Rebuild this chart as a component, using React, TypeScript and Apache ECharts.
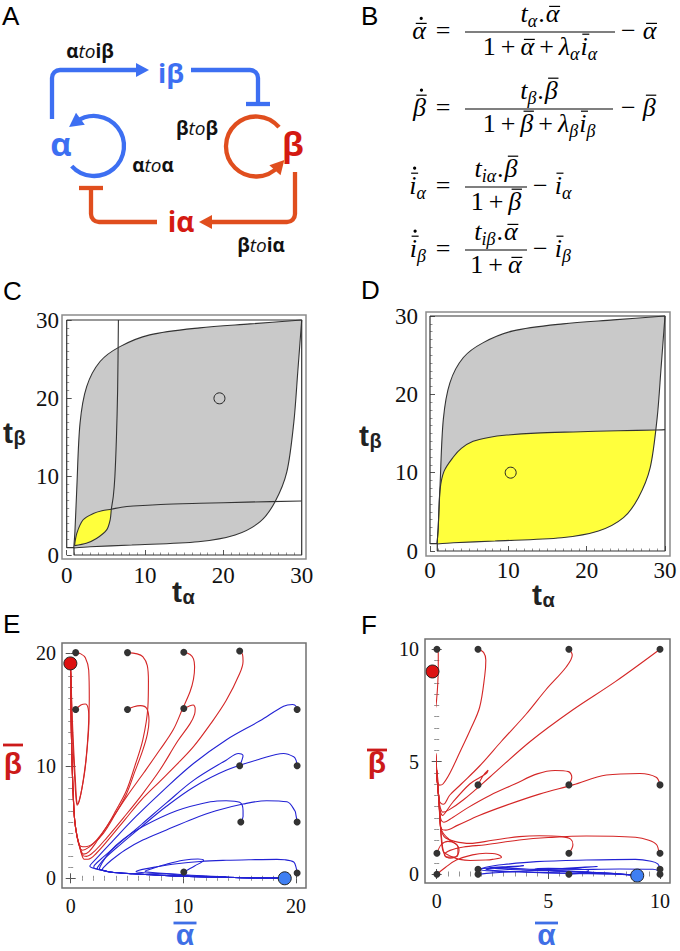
import React, { useEffect, useRef } from 'react';
import * as echarts from 'echarts';

type P = [number, number];

// ---------------- axis ranges ----------------
const CD_MAX = 30, CD_STEP = 10;
const E_MAX = 20, E_STEP = 10;
const F_MAX = 10, F_STEP = 5;

// ---------------- Panel C / D : parameter regions ----------------
const regionOutline: P[] = [[0, 30], [30, 30], [30, 0], [0.93, 0], [0.93, 0.93], [0, 0.93], [0, 30]];
const grayUpperEdge: P[] = [[0.9, 0.9], [1.05, 3], [1.28, 8.3], [1.7, 16.8], [2.55, 21.5], [4.26, 24.7], [6.8, 26.6], [10.6, 28.1], [17, 29], [23.4, 29.5], [30, 30]];
const grayLowerEdge: P[] = [[0.9, 0.9], [3, 1.05], [8.3, 1.28], [16.8, 1.7], [21.5, 2.55], [24.7, 4.26], [26.6, 6.8], [28.1, 10.6], [29, 17], [29.5, 23.4], [30, 30]];
const cLensTop: P[] = [[1.0, 1.2], [1.3, 2.8], [2.1, 4.5], [3.4, 5.3], [4.5, 5.65], [5.7, 5.85]];
const cLensBottom: P[] = [[1.0, 1.2], [2.5, 1.5], [3.8, 2.1], [5.1, 3.2], [5.55, 4.5], [5.7, 5.85]];
const cHorizCurve: P[] = [[5.7, 5.85], [7, 6.1], [8.5, 6.25], [12, 6.45], [17, 6.6], [23, 6.75], [30, 6.9]];
const cVertCurve: P[] = [[5.7, 5.85], [5.95, 7.5], [6.15, 10], [6.35, 15], [6.5, 21], [6.6, 30]];
const cMarker: P[] = [[19.5, 20]];
const dYellowTop: P[] = [[0.9, 0.9], [1.05, 3], [1.28, 7.8], [1.8, 10.2], [2.98, 12], [4, 13.1], [5.5, 14], [7.5, 14.5], [9.8, 14.8], [13.5, 15.05], [18.3, 15.2], [24, 15.35], [28.8, 15.45]];
const dYellowLower: P[] = [[0.9, 0.9], [3, 1.05], [8.3, 1.28], [16.8, 1.7], [21.5, 2.55], [24.7, 4.26], [26.6, 6.8], [28.1, 10.6], [28.8, 15.45]];
const dBetaTail: P[] = [[28.8, 15.45], [30, 15.5]];
const dMarker: P[] = [[10.3, 10]];

// ---------------- Panel E : trajectories ----------------
const eStarts: P[] = [[0.44, 20.06], [5.04, 20.06], [10.04, 20.1], [15.0, 20.2], [0.44, 15.0], [5.04, 15.0], [10.04, 15.1], [20.1, 15.0], [15.0, 10.0], [20.1, 10.0], [15.1, 5.0], [20.1, 5.0], [10.04, 0.56], [20.1, 0.47]];
const eRedFixed: P[] = [[-0.03, 19.1]];
const eBlueFixed: P[] = [[19.0, 0.0]];
const eRedReturn: P[] = [[0.55, 3.8], [0.35, 5.2], [0.22, 7.5], [0.13, 10], [0.07, 12.5], [0.03, 15], [0.01, 17.5], [-0.03, 19.1]];
const eBlueBottom: P[] = [[3.5, 0.56], [5.5, 0.4], [7.9, 0.27], [10.5, 0.17], [13.8, 0.09], [16.5, 0.04], [19.0, 0.0]];
const eRed1: P[] = [[0.44, 20.06], [0.9, 19.95], [1.3, 19.6], [1.6, 18.5], [1.65, 16], [1.55, 13], [1.35, 10.5], [1.0, 8.0], [0.75, 6.9], [0.58, 6.5], [0.48, 7.0], [0.38, 8.5], [0.24, 11], [0.12, 14], [0.04, 17], [-0.03, 19.1]];
const eRed2: P[] = [[0.44, 15.0], [0.9, 15.4], [1.3, 15.5], [1.55, 15.1], [1.62, 14], [1.5, 12], [1.25, 9.5], [0.9, 7.5], [0.64, 6.6], [0.53, 6.9], [0.43, 8.5], [0.29, 11], [0.15, 14], [0.05, 17], [-0.03, 19.1]];
const eRed3: P[] = [[5.04, 20.06], [5.9, 19.95], [6.4, 19.7], [6.8, 18.9], [6.9, 17.5], [6.85, 15.2], [6.4, 12.3], [5.7, 10], [4.95, 7.8], [4.0, 6.0], [3.2, 4.6], [2.3, 3.4], [1.6, 2.75], [1.05, 2.5], [0.8, 2.75], ...eRedReturn];
const eRed4: P[] = [[5.04, 15.0], [5.6, 15.25], [6.2, 15.35], [6.75, 15.1], [6.95, 14.0], [6.8, 12.8], [6.4, 11.4], [5.7, 9.5], [4.95, 7.5], [3.9, 5.6], [2.9, 4.0], [2.0, 3.1], [1.3, 2.8], [0.9, 2.85], [0.72, 3.1], ...eRedReturn];
const eRed5: P[] = [[10.04, 20.1], [10.6, 19.9], [10.9, 19.5], [11.0, 18.8], [10.9, 17.7], [10.6, 16.6], [9.9, 15], [9.1, 13.2], [7.9, 11.4], [6.5, 9.4], [5.0, 7.3], [3.6, 5.2], [2.4, 3.4], [1.6, 2.35], [1.15, 2.15], [0.9, 2.5], ...eRedReturn];
const eRed6: P[] = [[10.04, 15.1], [10.5, 15.3], [10.87, 15.4], [11.05, 15.1], [11.0, 14.6], [10.6, 13.75], [9.5, 12.2], [7.9, 9.6], [6.3, 7.4], [4.7, 5.4], [3.2, 3.6], [2.1, 2.4], [1.4, 1.95], [1.05, 2.05], [0.85, 2.6], ...eRedReturn];
const eRed7: P[] = [[15.0, 20.2], [15.25, 19.9], [15.3, 19.3], [15.0, 18.2], [13.8, 15.8], [12.4, 13.7], [10.9, 11.7], [9.4, 10.1], [7.9, 8.6], [6.3, 7.0], [4.8, 5.2], [3.4, 3.5], [2.3, 2.25], [1.55, 1.7], [1.2, 1.7], [0.95, 2.2], [0.78, 2.9], ...eRedReturn];
const eBlue1: P[] = [[20.1, 15.0], [20.05, 15.25], [19.7, 15.45], [18.9, 15.3], [16.8, 14.0], [13.8, 12.3], [10.9, 10.2], [8.2, 7.8], [5.8, 5.5], [3.8, 3.4], [2.5, 2.0], [1.8, 1.25], [1.7, 1.07], [2.3, 0.82], ...eBlueBottom];
const eBlue2: P[] = [[15.0, 10.0], [15.2, 10.5], [15.3, 10.9], [14.9, 11.1], [13.8, 10.5], [10.9, 8.7], [8.5, 6.7], [6.3, 4.8], [4.3, 3.1], [2.9, 1.9], [2.1, 1.15], [2.05, 0.95], [2.6, 0.76], ...eBlueBottom];
const eBlue3: P[] = [[20.1, 10.0], [20.0, 10.5], [19.8, 10.8], [18.9, 11.1], [16.8, 10.6], [13.8, 9.6], [10.9, 8.1], [8.5, 6.4], [6.3, 4.6], [4.4, 3.0], [3.0, 1.75], [2.4, 1.0], [2.35, 0.86], [2.8, 0.72], ...eBlueBottom];
const eBlue4: P[] = [[15.1, 5.0], [15.3, 5.5], [15.3, 6.0], [15.0, 6.75], [13.8, 6.9], [12.4, 6.8], [9.4, 6.0], [6.4, 4.6], [4.7, 3.5], [3.5, 2.4], [2.75, 1.3], [2.55, 0.85], [2.9, 0.7], ...eBlueBottom];
const eBlue5: P[] = [[20.1, 5.0], [20.0, 5.6], [19.9, 6.0], [19.2, 6.8], [17.4, 6.9], [15.3, 6.6], [12.9, 6.0], [10.9, 5.3], [8.5, 4.3], [6.4, 3.4], [4.8, 2.5], [3.6, 1.6], [2.9, 0.95], [2.8, 0.78], [3.1, 0.66], ...eBlueBottom];
const eBlue6: P[] = [[10.04, 0.56], [11.0, 1.1], [11.8, 1.6], [11.3, 1.72], [10.0, 1.6], [8.5, 1.25], [7.2, 0.85], [6.6, 0.62], [7.5, 0.5], [9.5, 0.36], [12, 0.2], [14.5, 0.1], [17, 0.04], [19.0, 0.0]];
const eBlue7: P[] = [[20.1, 0.47], [20.0, 1.0], [19.8, 1.45], [19.0, 1.65], [18.3, 1.68], [16, 1.65], [13.8, 1.6], [11.5, 1.5], [9.4, 1.3], [7.5, 1.0], [6.0, 0.7], [5.8, 0.58], [6.5, 0.5], [8.5, 0.38], [11, 0.22], [14, 0.1], [17, 0.03], [19.0, 0.0]];
const eRedPaths = [eRed1, eRed2, eRed3, eRed4, eRed5, eRed6, eRed7];
const eBluePaths = [eBlue1, eBlue2, eBlue3, eBlue4, eBlue5, eBlue6, eBlue7];

// ---------------- Panel F : trajectories ----------------
const fStarts: P[] = [[0.01, 9.99], [1.85, 9.99], [5.92, 9.99], [10.0, 9.99], [1.85, 3.96], [5.92, 3.96], [10.0, 3.96], [0.01, 0.92], [5.92, 0.92], [10.0, 0.92], [0.01, -0.01], [1.85, 0.21], [1.85, -0.01], [5.92, -0.01], [10.0, 0.21], [10.0, -0.01]];
const fRedFixed: P[] = [[-0.19, 9.0]];
const fBlueFixed: P[] = [[8.98, -0.07]];
const fRedReturn: P[] = [[0.1, 3.3], [0.0, 4.5], [-0.09, 6.0], [-0.16, 7.4], [-0.19, 9.0]];
const fRed1: P[] = [[0.01, 9.99], [0.07, 9.8], [0.07, 9.2], [0.05, 8.5], [0.0, 7.8], [-0.06, 7.35], [-0.1, 7.5], [-0.15, 8.2], [-0.19, 9.0]];
const fRed2: P[] = [[1.85, 9.99], [2.1, 9.85], [2.2, 9.5], [2.15, 8.8], [1.92, 7.4], [1.5, 6.4], [1.03, 5.4], [0.6, 4.5], [0.28, 4.0], [0.12, 3.95], [0.04, 4.3], [-0.05, 5.3], [-0.12, 6.5], [-0.17, 7.8], [-0.19, 9.0]];
const fRed3: P[] = [[5.92, 9.99], [6.07, 9.73], [5.8, 9.2], [4.9, 8.2], [4.0, 7.1], [2.9, 5.9], [1.92, 4.8], [1.1, 4.0], [0.58, 3.5], [0.3, 3.1], [0.18, 3.15], ...fRedReturn];
const fRed4: P[] = [[10.0, 9.99], [8.0, 8.55], [6.1, 7.3], [4.2, 5.9], [2.37, 4.3], [1.2, 3.3], [0.55, 2.85], [0.28, 2.75], [0.16, 2.95], ...fRedReturn];
const fRed5: P[] = [[1.85, 3.96], [2.1, 4.4], [2.3, 4.62], [2.25, 4.5], [1.95, 4.3], [1.48, 4.0], [0.73, 3.2], [0.4, 2.75], [0.27, 2.6], [0.16, 2.8], ...fRedReturn];
const fRed6: P[] = [[5.92, 3.96], [6.05, 4.3], [5.9, 4.55], [5.3, 4.6], [4.5, 4.45], [3.5, 4.0], [2.4, 3.5], [1.4, 2.95], [0.7, 2.5], [0.32, 2.3], [0.17, 2.5], ...fRedReturn];
const fRed7: P[] = [[10.0, 3.96], [9.83, 4.3], [9.1, 4.47], [7.6, 4.4], [6.1, 3.96], [4.6, 3.55], [3.1, 3.05], [1.9, 2.6], [0.9, 2.15], [0.4, 1.95], [0.22, 2.0], [0.15, 2.4], ...fRedReturn];
const fRed8: P[] = [[0.01, 0.92], [0.2, 1.3], [0.5, 1.45], [0.85, 1.35], [1.0, 1.05], [0.8, 0.75], [0.45, 0.75], [0.3, 1.0], [0.22, 1.6], [0.17, 2.1], ...fRedReturn];
const fRed9: P[] = [[5.92, 0.92], [6.1, 1.3], [6.0, 1.55], [5.6, 1.66], [4.6, 1.7], [3.7, 1.66], [2.5, 1.5], [1.48, 1.36], [0.8, 1.45], [0.4, 1.6], [0.25, 1.8], [0.17, 2.1], ...fRedReturn];
const fRed10: P[] = [[9.95, 0.92], [9.85, 1.3], [9.5, 1.5], [8.9, 1.63], [6.7, 1.69], [5.0, 1.62], [3.7, 1.51], [2.2, 1.3], [1.2, 1.2], [0.6, 1.05], [0.35, 0.85], [0.6, 0.7], [0.95, 0.85], [0.95, 1.2], [0.6, 1.5], [0.3, 1.8], [0.17, 2.1], ...fRedReturn];
const fRed11: P[] = [[0.01, -0.01], [0.4, 0.3], [0.88, 0.62], [1.6, 0.85], [2.2, 0.92], [2.7, 0.88], [2.9, 0.75], [2.5, 0.65], [2.2, 0.62], [1.5, 0.6], [1.03, 0.65], [0.6, 0.8], [0.3, 1.0], [0.2, 1.6], [0.17, 2.1], ...fRedReturn];
const fBlue1: P[] = [[1.85, 0.21], [2.3, 0.27], [3.2, 0.33], [3.9, 0.37], [3.3, 0.3], [2.6, 0.24], [3.3, 0.2], [5.0, 0.15], [6.6, 0.1], [7.8, 0.03], [8.98, -0.07]];
const fBlue2: P[] = [[1.85, -0.01], [2.5, 0.05], [3.8, 0.12], [5.0, 0.2], [6.5, 0.3], [7.2, 0.33], [6.2, 0.25], [4.8, 0.18], [5.6, 0.12], [7.0, 0.06], [8.2, 0.0], [8.98, -0.07]];
const fBlue3: P[] = [[5.92, -0.01], [6.5, 0.05], [6.8, 0.15], [6.3, 0.22], [5.0, 0.25], [4.4, 0.22], [5.3, 0.15], [6.8, 0.08], [8.0, 0.02], [8.98, -0.07]];
const fBlue4: P[] = [[10.0, 0.21], [9.9, 0.45], [9.6, 0.57], [8.9, 0.65], [6.7, 0.62], [4.46, 0.55], [3.0, 0.42], [2.2, 0.3], [1.95, 0.2], [2.5, 0.13], [3.7, 0.1], [5.5, 0.05], [7.0, 0.02], [8.0, 0.0], [8.98, -0.07]];
const fBlue5: P[] = [[10.0, -0.01], [9.9, 0.15], [9.68, 0.21], [8.2, 0.22], [6.5, 0.2], [5.2, 0.18], [4.0, 0.22], [3.0, 0.26], [2.2, 0.22], [2.6, 0.15], [4.0, 0.08], [6.0, 0.02], [7.8, 0.0], [8.98, -0.07]];
const fRedPaths = [fRed1, fRed2, fRed3, fRed4, fRed5, fRed6, fRed7, fRed8, fRed9, fRed10, fRed11];
const fBluePaths = [fBlue1, fBlue2, fBlue3, fBlue4, fBlue5];

// ---------------- Panel B : equations ----------------
type Tok = { t: string; it?: boolean; sub?: boolean; bar?: 'lo' | 'hi'; dot?: boolean; gap?: number };
const eq1Lhs: Tok[] = [{ t: 'α', it: true, bar: 'lo', dot: true }];
const eq1Num: Tok[] = [{ t: 't', it: true }, { t: 'α', it: true, sub: true }, { t: '.', gap: 1 }, { t: 'α', it: true, bar: 'lo', gap: 1 }];
const eq1Den: Tok[] = [{ t: '1' }, { t: '+', gap: 5 }, { t: 'α', it: true, bar: 'lo', gap: 5 }, { t: '+', gap: 5 }, { t: 'λ', it: true, gap: 5 }, { t: 'α', it: true, sub: true }, { t: 'i', it: true, bar: 'hi', gap: 1 }, { t: 'α', it: true, sub: true }];
const eq1Tail: Tok[] = [{ t: '−' }, { t: 'α', it: true, bar: 'lo', gap: 7 }];
const eq2Lhs: Tok[] = [{ t: 'β', it: true, bar: 'hi', dot: true }];
const eq2Num: Tok[] = [{ t: 't', it: true }, { t: 'β', it: true, sub: true }, { t: '.', gap: 1 }, { t: 'β', it: true, bar: 'hi', gap: 1 }];
const eq2Den: Tok[] = [{ t: '1' }, { t: '+', gap: 5 }, { t: 'β', it: true, bar: 'hi', gap: 5 }, { t: '+', gap: 5 }, { t: 'λ', it: true, gap: 5 }, { t: 'β', it: true, sub: true }, { t: 'i', it: true, bar: 'hi', gap: 1 }, { t: 'β', it: true, sub: true }];
const eq2Tail: Tok[] = [{ t: '−' }, { t: 'β', it: true, bar: 'hi', gap: 7 }];
const eq3Lhs: Tok[] = [{ t: 'i', it: true, bar: 'hi', dot: true }, { t: 'α', it: true, sub: true }];
const eq3Num: Tok[] = [{ t: 't', it: true }, { t: 'iα', it: true, sub: true }, { t: '.', gap: 1 }, { t: 'β', it: true, bar: 'hi', gap: 1 }];
const eq3Den: Tok[] = [{ t: '1' }, { t: '+', gap: 5 }, { t: 'β', it: true, bar: 'hi', gap: 5 }];
const eq3Tail: Tok[] = [{ t: '−' }, { t: 'i', it: true, bar: 'hi', gap: 7 }, { t: 'α', it: true, sub: true }];
const eq4Lhs: Tok[] = [{ t: 'i', it: true, bar: 'hi', dot: true }, { t: 'β', it: true, sub: true }];
const eq4Num: Tok[] = [{ t: 't', it: true }, { t: 'iβ', it: true, sub: true }, { t: '.', gap: 1 }, { t: 'α', it: true, bar: 'lo', gap: 1 }];
const eq4Den: Tok[] = [{ t: '1' }, { t: '+', gap: 5 }, { t: 'α', it: true, bar: 'lo', gap: 5 }];
const eq4Tail: Tok[] = [{ t: '−' }, { t: 'i', it: true, bar: 'hi', gap: 7 }, { t: 'β', it: true, sub: true }];

// ---------------- fonts / colours ----------------
const SERIF = '"Liberation Serif", "Times New Roman", serif';
const SANS = '"Liberation Sans", Arial, sans-serif';
const OPEN = '"Open Sans", "Liberation Sans", sans-serif';
const BLUE = '#3d6ff2';
const RED_LINE = '#e04e1e';
const RED_TXT = '#d41a12';
const TRAJ_RED = '#d42626';
const TRAJ_BLUE = '#2222d4';

let mctx: CanvasRenderingContext2D | null = null;
function tw(text: string, size: number, italic: boolean, family = SERIF, bold = false) {
  if (!mctx) mctx = document.createElement('canvas').getContext('2d');
  if (!mctx) return text.length * size * 0.5;
  mctx.font = `${italic ? 'italic ' : ''}${bold ? 'bold ' : ''}${size}px ${family}`;
  return mctx.measureText(text).width;
}

const EQ = 26, SUB = 18;
function rowW(toks: Tok[]) {
  return toks.reduce((s, k) => s + (k.gap || 0) + tw(k.t, k.sub ? SUB : EQ, !!k.it), 0);
}
function drawRow(toks: Tok[], x0: number, baseline: number, out: any[]) {
  let x = x0;
  toks.forEach((k) => {
    x += k.gap || 0;
    const fs = k.sub ? SUB : EQ;
    const w = tw(k.t, fs, !!k.it);
    const bl = baseline + (k.sub ? 5 : 0);
    out.push({
      type: 'text', x, y: bl - 0.3375 * fs, z: 50,
      style: { text: k.t, fontSize: fs, fontFamily: SERIF, fontStyle: k.it ? 'italic' : 'normal', fill: '#000', align: 'left', verticalAlign: 'middle', textAlign: 'left', textVerticalAlign: 'middle' },
    });
    if (k.bar) {
      const by = bl - (k.bar === 'hi' ? 0.8 : 0.6) * fs;
      const bw = Math.max(w * 0.8, 7);
      const bx = x + w * 0.25;
      out.push({ type: 'line', z: 50, shape: { x1: bx, y1: by, x2: bx + bw, y2: by }, style: { stroke: '#000', lineWidth: 1.2 } });
      if (k.dot) out.push({ type: 'circle', z: 50, shape: { cx: bx + bw / 2, cy: by - 5, r: 1.6 }, style: { fill: '#000' } });
    }
    x += w;
  });
  return x;
}
function equation(lhs: Tok[], num: Tok[], den: Tok[], tail: Tok[], bar: number, x0: number, x1: number, tailX: number, out: any[]) {
  drawRow(lhs, 426 - rowW(lhs), bar + 7, out);
  drawRow([{ t: '=' }], 443 - tw('=', EQ, false) / 2, bar + 7, out);
  const cx = (x0 + x1) / 2;
  drawRow(num, cx - rowW(num) / 2, bar - 10, out);
  drawRow(den, cx - rowW(den) / 2, bar + 23, out);
  out.push({ type: 'line', z: 50, shape: { x1: x0, y1: bar, x2: x1, y2: bar }, style: { stroke: '#000', lineWidth: 1.2 } });
  drawRow(tail, tailX, bar + 7, out);
}

// ---------------- helpers ----------------
function txt(text: string, x: number, y: number, size: number, o: any = {}) {
  return {
    type: 'text', x, y, z: 50,
    style: {
      text, fontSize: size, fontFamily: o.family || SANS, fontWeight: o.bold ? 'bold' : 'normal', fontStyle: o.italic ? 'italic' : 'normal',
      fill: o.color || '#000', align: o.align || 'left', verticalAlign: 'middle', textAlign: o.align || 'left', textVerticalAlign: 'middle',
    },
  };
}
function label3(a: string, b: string, x: number, y: number) {
  const base = { fontFamily: OPEN, fontSize: 19, fill: '#111', color: '#111' };
  return {
    type: 'text', x, y, z: 50,
    style: {
      text: `{b|${a}}{i|to}{b|${b}}`,
      rich: { b: { ...base, fontWeight: 'bold' }, i: { ...base, fontStyle: 'italic' } },
      align: 'center', verticalAlign: 'middle', textAlign: 'center', textVerticalAlign: 'middle',
    },
  };
}
const LW = 4.3;
const seg = (x1: number, y1: number, x2: number, y2: number, c: string) => ({ type: 'line', z: 40, shape: { x1, y1, x2, y2 }, style: { stroke: c, lineWidth: LW, lineCap: 'butt' } });
const arcEl = (cx: number, cy: number, r: number, sa: number, ea: number, cw: boolean, c: string) => ({ type: 'arc', z: 40, shape: { cx, cy, r, startAngle: sa, endAngle: ea, clockwise: cw }, style: { stroke: c, lineWidth: LW, fill: 'none' } });
function head(tx: number, ty: number, dx: number, dy: number, c: string, len = 13, half = 7) {
  const bx = tx - dx * len, by = ty - dy * len, nx = -dy, ny = dx;
  return { type: 'polygon', z: 41, shape: { points: [[tx, ty], [bx + nx * half, by + ny * half], [bx - nx * half, by - ny * half]] }, style: { fill: c } };
}
function circleArrow(cx: number, cy: number, r: number, sa: number, ea: number, c: string) {
  const px = cx + r * Math.cos(ea), py = cy + r * Math.sin(ea);
  const dx = Math.sin(ea), dy = -Math.cos(ea);
  return [arcEl(cx, cy, r, sa, ea, false, c), head(px + dx * 9, py + dy * 9, dx, dy, c, 14, 7.5)];
}
function rect(x: number, y: number, w: number, h: number, c: string) {
  return { type: 'rect', z: 30, shape: { x, y, width: w, height: h }, style: { fill: 'none', stroke: c, lineWidth: 1.5 } };
}
function overlined(t: string, cx: number, baseline: number, size: number, color: string, barY: number, barW: number) {
  return [
    txt(t, cx, baseline - 0.3465 * size, size, { bold: true, color, align: 'center' }),
    { type: 'rect', z: 50, shape: { x: cx - barW / 2, y: barY - 1.4, width: barW, height: 2.8 }, style: { fill: color } },
  ];
}
function subTitle(main: string, sub: string, x: number, baseline: number, color = '#222') {
  const w = tw(main, 30, false, SANS, true);
  return [
    txt(main, x, baseline - 0.3465 * 30, 30, { bold: true, color }),
    txt(sub, x + w + 0.5, baseline + 2 - 0.3465 * 20, 20, { bold: true, color }),
  ];
}
function closedShape(a: P[], b: P[]) {
  return [...a, ...b.slice().reverse()];
}

function axis(grid: number, pos: string, max: number, step: number, offset: number, labels: boolean, size: number, margin: number) {
  return {
    type: 'value', gridIndex: grid, position: pos, min: 0, max, interval: step, offset,
    axisLine: { show: false }, splitLine: { show: false },
    axisTick: { show: true, inside: true, length: 5, lineStyle: { color: '#555', width: 1 } },
    minorTick: { show: true, splitNumber: 10, length: 2.5, lineStyle: { color: '#777', width: 0.8 } },
    axisLabel: { show: labels, fontFamily: SERIF, fontSize: size, color: '#111', margin },
  };
}

function buildOption() {
  const series: any[] = [];
  const poly = (ax: number, pts: P[], fill: string, z: number) => ({
    type: 'custom', xAxisIndex: ax, yAxisIndex: ax, coordinateSystem: 'cartesian2d', z, silent: true, clip: false,
    data: [pts[0]],
    renderItem: (_p: any, api: any) => ({ type: 'polygon', shape: { points: pts.map((p) => api.coord(p)), smooth: 0.3 }, style: { fill, stroke: 'none' } }),
  });
  const line = (ax: number, data: P[], color: string, width: number, smooth: number, z = 3) => ({
    type: 'line', xAxisIndex: ax, yAxisIndex: ax, data, symbol: 'none', showSymbol: false, smooth, clip: false, silent: true, z,
    lineStyle: { color, width },
  });
  const dots = (ax: number, data: P[], size: number, color: string, border?: string, z = 5) => ({
    type: 'scatter', xAxisIndex: ax, yAxisIndex: ax, data, symbol: 'circle', symbolSize: size, clip: false, silent: true, z,
    itemStyle: { color, borderColor: border || color, borderWidth: border ? 1 : 0, opacity: 1 },
  });

  // Panel C (axes 0)
  series.push(poly(0, closedShape(grayUpperEdge, grayLowerEdge), '#c9c9c9', 1));
  series.push(poly(0, closedShape(cLensTop, cLensBottom), '#ffff3c', 2));
  series.push(line(0, regionOutline, '#333', 1.2, 0));
  series.push(line(0, grayUpperEdge, '#333', 1.1, 0.3));
  series.push(line(0, grayLowerEdge, '#333', 1.1, 0.3));
  series.push(line(0, [...cLensTop, ...cHorizCurve.slice(1)], '#333', 1.1, 0.3));
  series.push(line(0, [...cLensBottom, ...cVertCurve.slice(1)], '#333', 1.1, 0.3));
  series.push(dots(0, cMarker, 11, 'rgba(0,0,0,0)', '#222'));
  // Panel D (axes 1)
  series.push(poly(1, closedShape(grayUpperEdge, grayLowerEdge), '#c9c9c9', 1));
  series.push(poly(1, closedShape(dYellowTop, dYellowLower), '#ffff3c', 2));
  series.push(line(1, regionOutline, '#333', 1.2, 0));
  series.push(line(1, grayUpperEdge, '#333', 1.1, 0.3));
  series.push(line(1, grayLowerEdge, '#333', 1.1, 0.3));
  series.push(line(1, [...dYellowTop, ...dBetaTail.slice(1)], '#333', 1.1, 0.3));
  series.push(dots(1, dMarker, 11, 'rgba(0,0,0,0)', '#222'));
  // Panel E (x axis 2, y axis 2)
  eRedPaths.forEach((p) => series.push(line(2, p, TRAJ_RED, 1.1, 0.35)));
  eBluePaths.forEach((p) => series.push(line(2, p, TRAJ_BLUE, 1.1, 0.35)));
  series.push(dots(2, eStarts, 7, '#333'));
  series.push(dots(2, eRedFixed, 13, '#dd1111', '#222', 6));
  series.push(dots(2, eBlueFixed, 13, '#3f7ff2', '#222', 6));
  // Panel F (x axis 4, y axis 4)
  fRedPaths.forEach((p) => series.push(line(4, p, TRAJ_RED, 1.1, 0.35)));
  fBluePaths.forEach((p) => series.push(line(4, p, TRAJ_BLUE, 1.1, 0.35)));
  series.push(dots(4, fStarts, 7, '#333'));
  series.push(dots(4, fRedFixed, 13, '#dd1111', '#222', 6));
  series.push(dots(4, fBlueFixed, 13, '#3f7ff2', '#222', 6));

  const grids = [
    { left: 66.7, top: 320, width: 235, height: 235 },
    { left: 430, top: 316, width: 235, height: 235 },
    { left: 70.7, top: 653.3, width: 225.3, height: 225 },
    { left: 436.7, top: 649, width: 223.3, height: 225 },
  ].map((g) => ({ ...g, containLabel: false, outerBoundsMode: 'none', show: false }));

  const xAxis = [
    axis(0, 'bottom', CD_MAX, CD_STEP, 4, true, 23, 5),
    axis(1, 'bottom', CD_MAX, CD_STEP, 5, true, 23, 3),
    axis(2, 'bottom', E_MAX, E_STEP, 9.7, true, 20, 8),
    axis(2, 'top', E_MAX, E_STEP, 10.3, false, 20, 8),
    axis(3, 'bottom', F_MAX, F_STEP, 9, true, 20, 8),
    axis(3, 'top', F_MAX, F_STEP, 10, false, 20, 8),
  ];
  const yAxis = [
    axis(0, 'left', CD_MAX, CD_STEP, 4.7, true, 23, 3),
    axis(1, 'left', CD_MAX, CD_STEP, 4, true, 23, 8),
    axis(2, 'left', E_MAX, E_STEP, 8.7, true, 20, 6),
    axis(2, 'right', E_MAX, E_STEP, 10, false, 20, 6),
    axis(3, 'left', F_MAX, F_STEP, 11.7, true, 20, 6),
    axis(3, 'right', F_MAX, F_STEP, 10, false, 20, 6),
  ];

  const g: any[] = [];
  // panel letters
  [['A', 2, 25], ['B', 361, 25], ['C', 3, 300], ['D', 361, 299], ['E', 3, 633], ['F', 361, 634]].forEach(([t, x, b]) => {
    g.push(txt(t as string, x as number, (b as number) - 0.3465 * 26, 26, {}));
  });
  // Panel A diagram
  g.push(seg(52, 119, 52, 78, BLUE), arcEl(60, 78, 8, Math.PI, 1.5 * Math.PI, true, BLUE), seg(60, 70, 138, 70, BLUE), head(149, 70, 1, 0, BLUE));
  g.push(seg(191, 70, 250, 70, BLUE), arcEl(250, 78, 8, 1.5 * Math.PI, 2 * Math.PI, true, BLUE), seg(258, 78, 258, 104, BLUE), seg(246, 104, 270, 104, BLUE));
  g.push(seg(79, 188, 103, 188, RED_LINE), seg(91, 188, 91, 214, RED_LINE), arcEl(99, 214, 8, Math.PI, Math.PI / 2, false, RED_LINE), seg(99, 222, 157, 222, RED_LINE));
  g.push(seg(295, 172, 295, 214, RED_LINE), arcEl(287, 214, 8, 0, Math.PI / 2, true, RED_LINE), seg(287, 222, 210, 222, RED_LINE), head(199, 222, -1, 0, RED_LINE));
  g.push(...circleArrow(94, 146, 30, (138 * Math.PI) / 180, (-126 * Math.PI) / 180, BLUE));
  g.push(...circleArrow(256, 146.5, 30, (-40 * Math.PI) / 180, (42 * Math.PI) / 180, RED_LINE));
  g.push(txt('iβ', 171, 72, 27, { family: OPEN, bold: true, color: BLUE, align: 'center' }));
  g.push(txt('α', 61, 143, 33, { family: OPEN, bold: true, color: BLUE, align: 'center' }));
  g.push(txt('β', 293, 143, 33, { family: OPEN, bold: true, color: RED_TXT, align: 'center' }));
  g.push(txt('iα', 181, 221, 28, { family: OPEN, bold: true, color: RED_TXT, align: 'center' }));
  g.push(label3('α', 'iβ', 90, 51), label3('α', 'α', 153, 165), label3('β', 'β', 197, 128), label3('β', 'iα', 261, 245));
  // Panel B equations
  equation(eq1Lhs, eq1Num, eq1Den, eq1Tail, 32, 465, 615, 621, g);
  equation(eq2Lhs, eq2Num, eq2Den, eq2Tail, 109, 465, 613, 621, g);
  equation(eq3Lhs, eq3Num, eq3Den, eq3Tail, 187, 465, 527, 533, g);
  equation(eq4Lhs, eq4Num, eq4Den, eq4Tail, 250, 465, 527, 533, g);
  // frames
  g.push(rect(62, 315, 244, 244, '#8c8c8c'), rect(426, 312, 244, 244, '#8c8c8c'), rect(62, 643, 244, 245, '#707070'), rect(425, 639, 245, 244, '#707070'));
  // axis titles
  g.push(...subTitle('t', 'β', 3, 443), ...subTitle('t', 'α', 172, 602), ...subTitle('t', 'β', 359, 446), ...subTitle('t', 'α', 532, 605));
  g.push(...overlined('β', 13, 774, 30, '#cc1a1a', 745, 20), ...overlined('α', 185, 945, 30, '#3f6fe6', 923, 23));
  g.push(...overlined('β', 377, 773, 30, '#cc1a1a', 750, 20), ...overlined('α', 546.5, 945, 30, '#3f6fe6', 923, 23));

  return {
    animation: false,
    backgroundColor: '#fff',
    grid: grids,
    xAxis,
    yAxis,
    series,
    graphic: { elements: g },
  };
}

export default function App() {
  const ref = useRef<HTMLDivElement>(null);
  useEffect(() => {
    if (!ref.current) return;
    const chart = echarts.init(ref.current, null, { renderer: 'svg' });
    chart.setOption(buildOption() as any);
    return () => chart.dispose();
  }, []);
  return <div ref={ref} style={{ position: 'absolute', left: 0, top: 0, width: 680, height: 951, background: '#fff' }} />;
}
